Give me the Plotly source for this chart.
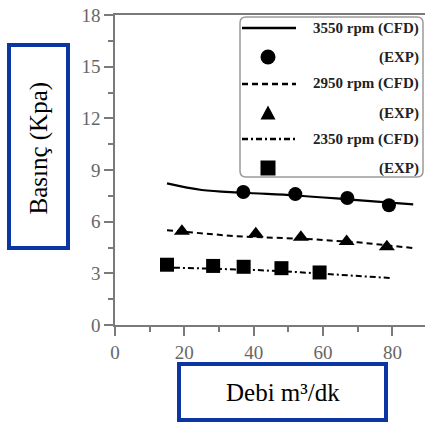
import plotly.graph_objects as go

# ---- data ----
cfd3550_x = [15, 25, 37, 52, 67, 86]
cfd3550_y = [8.22, 7.84, 7.68, 7.52, 7.3, 7.0]
exp3550_x = [37, 52, 67, 79]
exp3550_y = [7.72, 7.6, 7.37, 6.95]

cfd2950_x = [15, 35, 55, 70, 86]
cfd2950_y = [5.5, 5.15, 5.0, 4.8, 4.47]
exp2950_x = [19.3, 40.6, 53.6, 66.8, 78.4]
exp2950_y = [5.45, 5.3, 5.1, 4.85, 4.55]

cfd2350_x = [17, 40, 52, 68, 80]
cfd2350_y = [3.33, 3.2, 3.08, 2.85, 2.72]
exp2350_x = [15, 28.3, 37.1, 48, 59]
exp2350_y = [3.5, 3.43, 3.38, 3.3, 3.05]

legend_labels = ["3550 rpm (CFD)", "(EXP)", "2950 rpm (CFD)", "(EXP)", "2350 rpm (CFD)", "(EXP)"]
x_ticks = [0, 20, 40, 60, 80]
y_ticks = [0, 3, 6, 9, 12, 15, 18]
x_title = "Debi m³/dk"
y_title = "Basınç (Kpa)"

SERIF = "Liberation Serif, Times New Roman, serif"
BLUE = "#0b35a3"

fig = go.Figure()
fig.add_trace(go.Scatter(x=cfd3550_x, y=cfd3550_y, mode="lines", line=dict(color="black", width=2.2, shape="spline")))
fig.add_trace(go.Scatter(x=exp3550_x, y=exp3550_y, mode="markers", marker=dict(symbol="circle", size=14, color="black")))
fig.add_trace(go.Scatter(x=cfd2950_x, y=cfd2950_y, mode="lines", line=dict(color="black", width=2, dash="6px,4px")))
fig.add_trace(go.Scatter(x=exp2950_x, y=exp2950_y, mode="markers", marker=dict(symbol="triangle-up", size=14, color="black")))
fig.add_trace(go.Scatter(x=cfd2350_x, y=cfd2350_y, mode="lines", line=dict(color="black", width=2, dash="6px,3px,2px,3px")))
fig.add_trace(go.Scatter(x=exp2350_x, y=exp2350_y, mode="markers", marker=dict(symbol="square", size=14, color="black")))

axis_common = dict(showline=True, linecolor="#7a7a7a", linewidth=1.5, ticks="outside", ticklen=9,
                   tickcolor="#7a7a7a", tickwidth=1.5, showgrid=False, zeroline=False,
                   tickfont=dict(family=SERIF, size=19, color="#666666"))
fig.update_xaxes(range=[0, 89.4], tickvals=x_ticks, mirror=True,
                 minor=dict(dtick=10, ticklen=5, tickcolor="#7a7a7a", ticks="outside", tick0=0),
                 **axis_common)
fig.update_yaxes(range=[0, 18], tickvals=y_ticks,
                 minor=dict(dtick=1.5, ticklen=5, tickcolor="#7a7a7a", ticks="outside", tick0=0),
                 **axis_common)

shapes = []
annotations = []

def px2x(px):
    return (px - 115) / 310.0

def px2y(py):
    return (325 - py) / 310.0

# legend box (rounded)
x0, x1, y0, y1, r = px2x(240), px2x(423), px2y(17), px2y(177), 6 / 310.0
path = (f"M {x0+r},{y0} L {x1-r},{y0} Q {x1},{y0} {x1},{y0-r} L {x1},{y1+r} Q {x1},{y1} {x1-r},{y1} "
        f"L {x0+r},{y1} Q {x0},{y1} {x0},{y1+r} L {x0},{y0-r} Q {x0},{y0} {x0+r},{y0} Z")
shapes.append(dict(type="path", xref="paper", yref="paper", path=path,
                   line=dict(color="#9a9a9a", width=1.5), fillcolor="white", layer="above"))

rows_py = [28, 57, 84, 113, 139, 168]
dashes = ["solid", None, "6px,4px", None, "6px,3px,2px,3px", None]
for i, (lab, py) in enumerate(zip(legend_labels, rows_py)):
    yc = px2y(py)
    if dashes[i] is not None:
        shapes.append(dict(type="line", xref="paper", yref="paper", x0=px2x(242), x1=px2x(296), y0=yc, y1=yc,
                           line=dict(color="black", width=2.5, dash=dashes[i]), layer="above"))
    else:
        s = 7.5 / 310.0
        xc = px2x(268)
        if i == 1:
            shapes.append(dict(type="circle", xref="paper", yref="paper", x0=xc - s, x1=xc + s, y0=yc - s, y1=yc + s,
                               fillcolor="black", line=dict(width=0), layer="above"))
        elif i == 3:
            shapes.append(dict(type="path", xref="paper", yref="paper",
                               path=f"M {xc - s},{yc - s*0.85} L {xc + s},{yc - s*0.85} L {xc},{yc + s*1.0} Z",
                               fillcolor="black", line=dict(width=0), layer="above"))
        else:
            shapes.append(dict(type="rect", xref="paper", yref="paper", x0=xc - s, x1=xc + s, y0=yc - s, y1=yc + s,
                               fillcolor="black", line=dict(width=0), layer="above"))
    annotations.append(dict(text=f"<b>{lab}</b>", xref="paper", yref="paper", x=px2x(421), y=yc,
                            xanchor="right", yanchor="middle", showarrow=False,
                            font=dict(family=SERIF, size=15, color="#222222")))

# y title box
shapes.append(dict(type="rect", xref="paper", yref="paper", x0=px2x(9), x1=px2x(68), y0=px2y(45), y1=px2y(248),
                   fillcolor="white", line=dict(color=BLUE, width=4), layer="above"))
annotations.append(dict(text=y_title, xref="paper", yref="paper", x=px2x(38.5), y=px2y(148), textangle=-90,
                        showarrow=False, xanchor="center", yanchor="middle",
                        font=dict(family=SERIF, size=25, color="black")))
# x title box
shapes.append(dict(type="rect", xref="paper", yref="paper", x0=px2x(179), x1=px2x(386), y0=px2y(364), y1=px2y(420),
                   fillcolor="white", line=dict(color=BLUE, width=4), layer="above"))
annotations.append(dict(text=x_title, xref="paper", yref="paper", x=px2x(282.5), y=px2y(393),
                        showarrow=False, xanchor="center", yanchor="middle",
                        font=dict(family=SERIF, size=25, color="black")))

fig.update_layout(width=425, height=423, margin=dict(l=115, r=0, t=15, b=98),
                  paper_bgcolor="white", plot_bgcolor="white", showlegend=False,
                  shapes=shapes, annotations=annotations)

fig.write_html("out.html", config={"displayModeBar": False},
               post_script="document.body.style.margin='0';document.body.style.overflow='hidden';")
